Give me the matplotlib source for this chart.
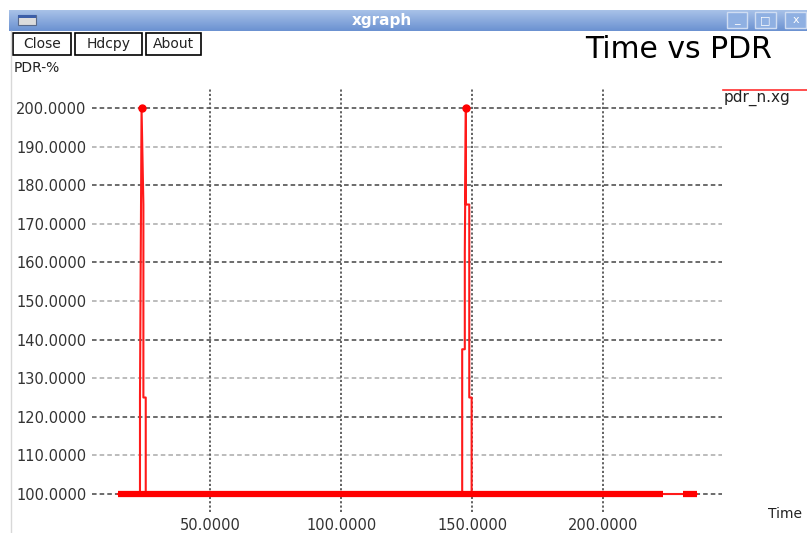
"""Recreate the xgraph 'Time vs PDR' window as a static PNG."""

import matplotlib
matplotlib.use("Agg")
import matplotlib.pyplot as plt
import numpy as np
from matplotlib.patches import Rectangle

W, H = 807, 533

# ---- data ----
time = [14.9, 23.3, 23.3, 23.9, 24.6, 24.6, 25.5, 25.5,
        146.2, 146.2, 147.2, 147.2, 147.6, 147.6, 148.9, 148.9, 149.8, 149.8,
        222.8, 230.4, 235.7]
pdr = [100, 100, 125, 200, 175, 125, 125, 100,
       100, 137.5, 137.5, 162.5, 200, 175, 175, 125, 125, 100,
       100, 100, 100]
peak_time = [23.9, 147.6]
peak_pdr = [200, 200]
# stretches where the samples are so dense the trace looks like a thick bar
dense_start = [14.9, 230.4]
dense_end = [222.8, 235.7]

x_ticks = [50, 100, 150, 200]
y_ticks = [100, 110, 120, 130, 140, 150, 160, 170, 180, 190, 200]
buttons = ["Close", "Hdcpy", "About"]


def fx(x):
    return x / W


def fy(y):
    return 1 - y / H


def box(fig, x0, y0, x1, y1, **kw):
    fig.add_artist(Rectangle((fx(x0), fy(y1)), fx(x1 - x0), (y1 - y0) / H,
                             transform=fig.transFigure, **kw))


fig = plt.figure(figsize=(W / 100, H / 100), dpi=100)
fig.patch.set_facecolor("white")

# ---- window title bar ----
tb = fig.add_axes([fx(9), fy(31), fx(W - 9), 21 / H])
grad = np.linspace(0, 1, 50).reshape(-1, 1)
top_c = np.array([0.66, 0.76, 0.91])
bot_c = np.array([0.42, 0.57, 0.82])
img = top_c + (bot_c - top_c) * grad[..., None]
tb.imshow(img, aspect="auto", extent=[0, 1, 0, 1])
tb.set_axis_off()
fig.text(fx(382), fy(20), "xgraph", ha="center", va="center",
         color="white", fontsize=11, fontweight="bold")

# window icon
box(fig, 18, 15, 36, 25, facecolor="#dcdcdc", edgecolor="#5a6a8a", lw=0.8)
box(fig, 18, 15, 36, 17.5, facecolor="#3c5ea8", edgecolor="none")

# min / max / close buttons
for (x0, x1), sym in zip([(727, 747), (755, 776), (785, 806)], ["_", "\u25a1", "x"]):
    box(fig, x0, 12, x1, 28, facecolor="#8fb0e2", edgecolor="#d0ddf2", lw=1)
    fig.text(fx((x0 + x1) / 2), fy(20), sym, ha="center", va="center",
             color="white", fontsize=8)

# content border
fig.add_artist(plt.Line2D([fx(11), fx(11)], [fy(31), 0], color="#d8d8d8",
                          lw=1, transform=fig.transFigure))

# ---- xgraph buttons ----
for label, (x0, x1) in zip(buttons, [(13, 71), (75, 142), (146, 201)]):
    box(fig, x0, 33, x1, 55, facecolor="white", edgecolor="black", lw=1.2)
    fig.text(fx((x0 + x1) / 2), fy(44), label, ha="center", va="center",
             fontsize=10, color="#222222")

fig.text(fx(585), fy(50), "Time vs PDR", ha="left", va="center",
         fontsize=21.5, color="black")
fig.text(fx(14), fy(68), "PDR-%", ha="left", va="center", fontsize=10,
         color="#222222")
fig.text(fx(768), fy(514), "Time", ha="left", va="center", fontsize=10,
         color="#222222")

# legend entry
fig.add_artist(plt.Line2D([fx(723), fx(807)], [fy(90), fy(90)], color="#ff3030",
                          lw=1.2, transform=fig.transFigure))
fig.text(fx(724), fy(98), "pdr_n.xg", ha="left", va="center", fontsize=11,
         color="#222222")

# ---- plot area ----
ax = fig.add_axes([fx(92), fy(512), fx(722 - 92), (512 - 89) / H])
ax.set_xlim(5.0, 245.3)
ax.set_ylim(95.34, 204.92)
for s in ax.spines.values():
    s.set_visible(False)

for i, yv in enumerate(y_ticks):
    col = "#444444" if i % 2 == 0 else "#aaaaaa"
    ax.axhline(yv, color=col, lw=1.1, ls=(0, (3, 2)), zorder=1)
for xv in x_ticks:
    ax.axvline(xv, color="#555555", lw=1.3, ls=(0, (1.2, 1.2)), zorder=1)

ax.plot(time, pdr, color="#ff1a1a", lw=1.5, zorder=3)
for x0, x1 in zip(dense_start, dense_end):
    ax.plot([x0, x1], [100, 100], color="#ff0000", lw=4.5,
            solid_capstyle="butt", zorder=3)
ax.plot(peak_time, peak_pdr, "o", color="#ff0000", ms=5, zorder=4)

ax.set_xticks(x_ticks, [f"{v:.4f}" for v in x_ticks])
ax.set_yticks(y_ticks, [f"{v:.4f}" for v in y_ticks])
ax.tick_params(axis="both", length=0, labelsize=10.5, labelcolor="#333333")
ax.tick_params(axis="x", pad=4)
ax.tick_params(axis="y", pad=4)

fig.savefig("out.png", dpi=100)
